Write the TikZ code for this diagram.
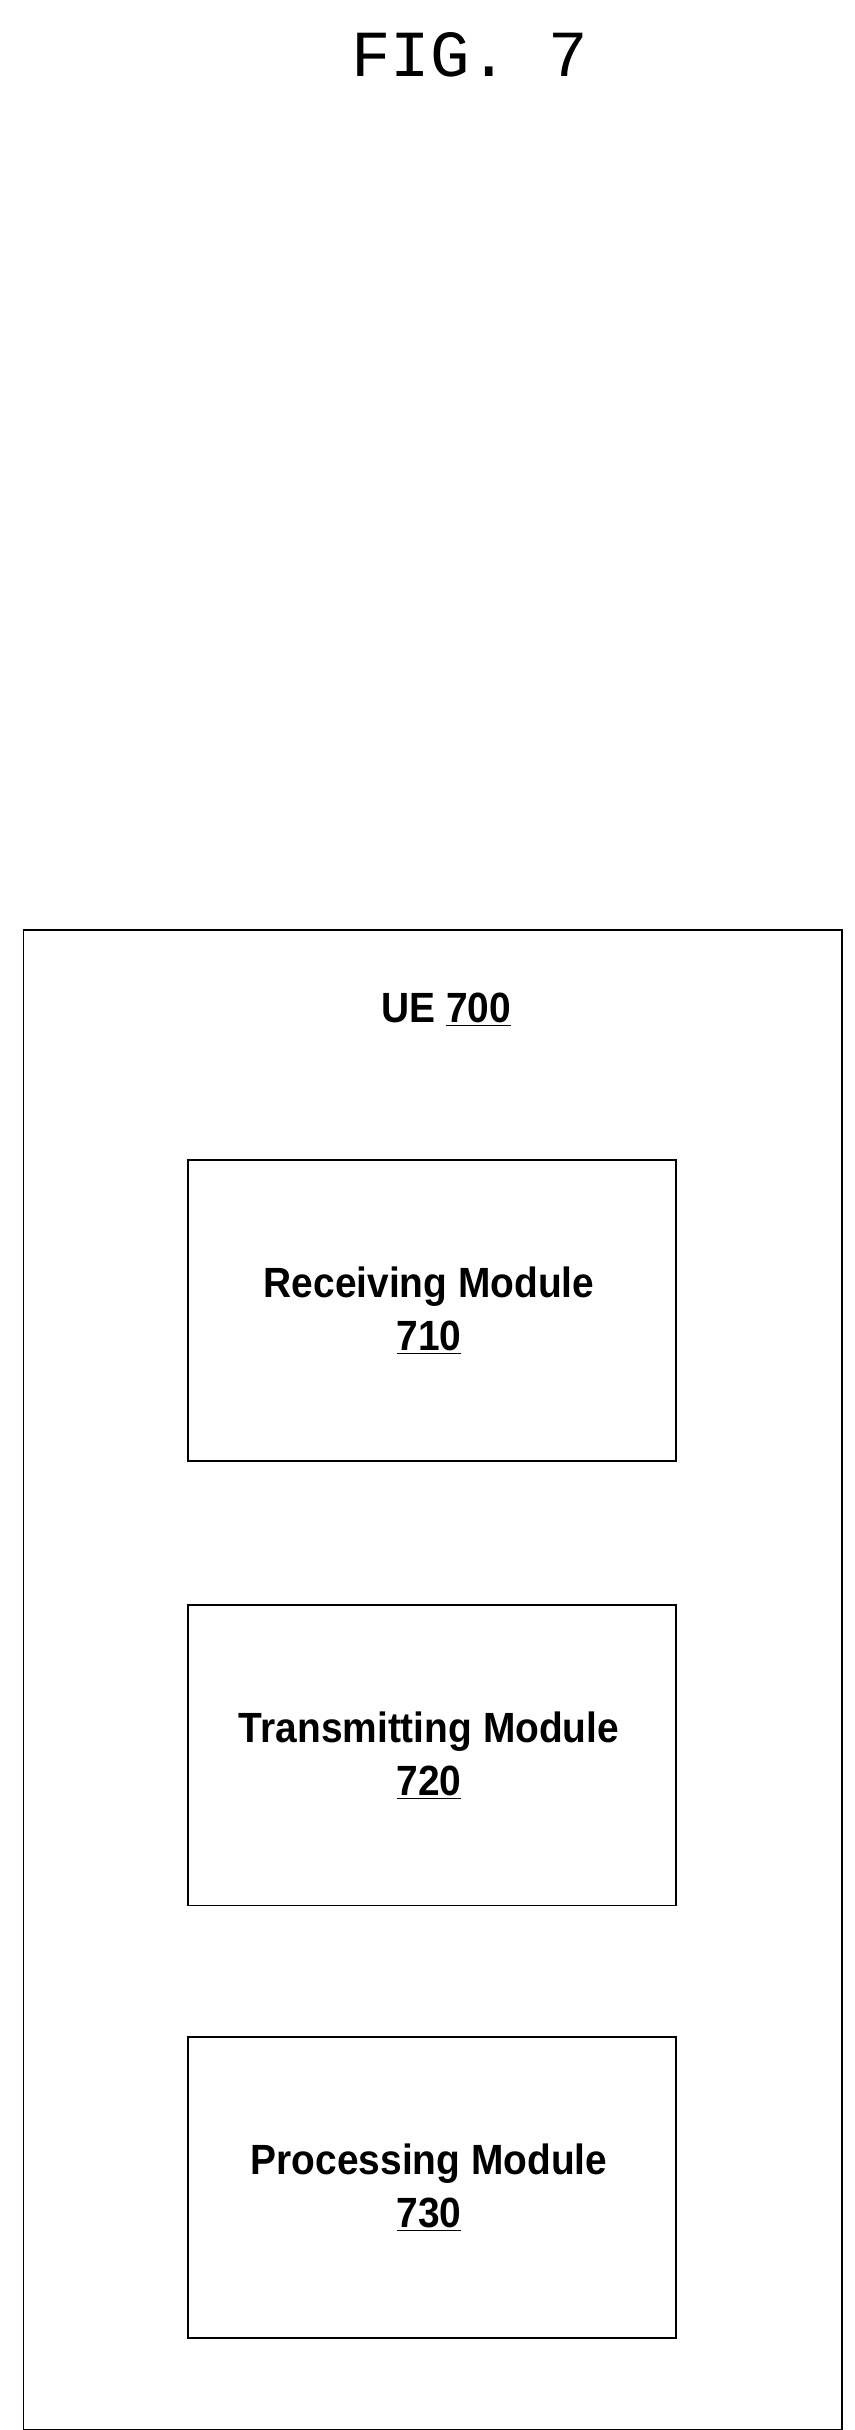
\documentclass[tikz,border=0pt]{standalone}
\usepackage{fontspec}
\setmainfont{Liberation Sans}
\newfontfamily\titlefont{Liberation Mono}
\begin{document}
\begin{tikzpicture}[x=1pt,y=-1pt,
  box/.style={draw,line width=1.2pt},
  lbl/.style={font=\fontsize{27}{34}\selectfont\bfseries,align=center,xscale=0.92}]
\useasboundingbox (0,0) rectangle (546,1552);
\node[font=\titlefont\fontsize{42}{46}\selectfont] (title) at (300,35) {FIG. 7};
\draw[box] (15,594) rectangle (538,1552);
\node[lbl] (ue) at (285,645) {UE \underline{700}};
\draw[box] (120,741) rectangle (432,933);
\node[lbl] (m1) at (274,837) {Receiving Module\\\underline{710}};
\draw[box] (120,1025) rectangle (432,1217);
\node[lbl] (m2) at (274,1121) {Transmitting Module\\\underline{720}};
\draw[box] (120,1301) rectangle (432,1493);
\node[lbl] (m3) at (274,1397) {Processing Module\\\underline{730}};
\end{tikzpicture}
\end{document}
